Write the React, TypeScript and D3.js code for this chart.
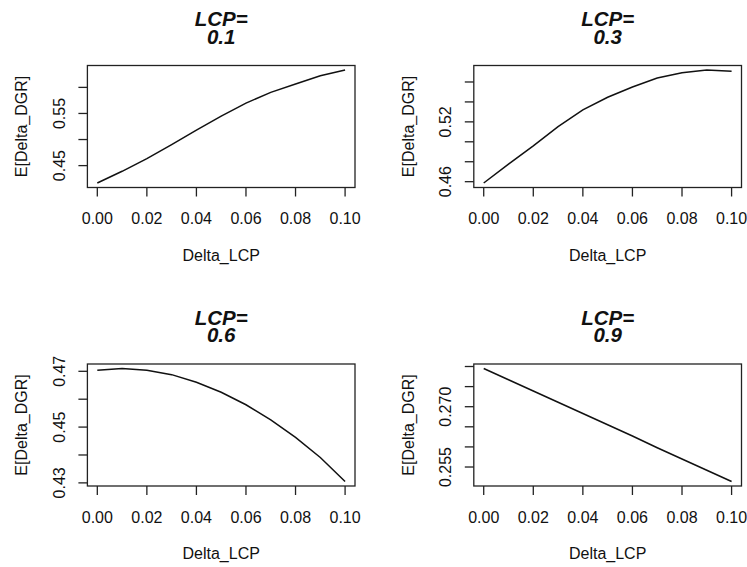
import { useEffect, useRef } from "react";
import * as d3 from "d3";

const deltaLcp = [0, 0.01, 0.02, 0.03, 0.04, 0.05, 0.06, 0.07, 0.08, 0.09, 0.1];

const lcp01 = [0.4167, 0.4391, 0.4635, 0.4904, 0.518, 0.5449, 0.5699, 0.5904, 0.6064, 0.6224, 0.6333];
const lcp03 = [0.4587, 0.4777, 0.496, 0.5153, 0.532, 0.5447, 0.555, 0.564, 0.5693, 0.572, 0.5707];
const lcp06 = [0.4704, 0.471, 0.4704, 0.4688, 0.4661, 0.4625, 0.458, 0.4526, 0.4463, 0.4391, 0.4305];
const lcp09 = [0.2795, 0.2767, 0.2739, 0.2711, 0.2683, 0.2655, 0.2627, 0.2598, 0.257, 0.2542, 0.2514];

const panelTitles = ["0.1", "0.3", "0.6", "0.9"];
const seriesList = [lcp01, lcp03, lcp06, lcp09];

const xTicks = [0, 0.02, 0.04, 0.06, 0.08, 0.1];
const yTicks = [
  [0.45, 0.5, 0.55, 0.6],
  [0.46, 0.48, 0.5, 0.52, 0.54, 0.56],
  [0.43, 0.44, 0.45, 0.46, 0.47],
  [0.255, 0.26, 0.265, 0.27, 0.275, 0.28],
];
const yLabels = [
  ["0.45", "0.55"],
  ["0.46", "0.52"],
  ["0.43", "0.45", "0.47"],
  ["0.255", "0.270"],
];

const W = 747;
const H = 567;
const FONT = "'Liberation Sans', Arial, Helvetica, sans-serif";

// plot boxes (left, right, top, bottom)
const boxes = [
  { l: 87.4, r: 355, t: 65.5, b: 187.5 },
  { l: 473.8, r: 741.5, t: 65.5, b: 187.5 },
  { l: 87.4, r: 355, t: 364, b: 486 },
  { l: 473.8, r: 741.5, t: 364, b: 486 },
];

// R style 4% padding
const pad = (ext) => {
  const d = (ext[1] - ext[0]) * 0.04;
  return [ext[0] - d, ext[1] + d];
};

const App = () => {
  const svgRef = useRef(null);

  useEffect(() => {
    const svg = d3.select(svgRef.current);
    svg.selectAll("*").remove();

    seriesList.forEach((vals, i) => {
      const box = boxes[i];
      const data = deltaLcp.map((x, j) => [x, vals[j]]);

      const x = d3.scaleLinear().domain(pad(d3.extent(deltaLcp))).range([box.l, box.r]);
      const y = d3.scaleLinear().domain(pad(d3.extent(vals))).range([box.b, box.t]);

      const g = svg.append("g");

      g.append("rect")
        .attr("x", box.l)
        .attr("y", box.t)
        .attr("width", box.r - box.l)
        .attr("height", box.b - box.t)
        .attr("fill", "none")
        .attr("stroke", "#222")
        .attr("stroke-width", 1.3);

      g.append("path")
        .datum(data)
        .attr("fill", "none")
        .attr("stroke", "#111")
        .attr("stroke-width", 1.5)
        .attr("d", d3.line().x((d) => x(d[0])).y((d) => y(d[1])));

      // x axis
      g.selectAll(".xt")
        .data(xTicks)
        .enter()
        .append("line")
        .attr("x1", (d) => x(d))
        .attr("x2", (d) => x(d))
        .attr("y1", box.b)
        .attr("y2", box.b + 9)
        .attr("stroke", "#222")
        .attr("stroke-width", 1.3);
      g.selectAll(".xl")
        .data(xTicks)
        .enter()
        .append("text")
        .attr("x", (d) => x(d))
        .attr("y", box.b + 36.5)
        .attr("text-anchor", "middle")
        .attr("font-family", FONT)
        .attr("font-size", 16)
        .attr("fill", "#111")
        .text((d) => d3.format(".2f")(d));

      // y axis
      g.selectAll(".yt")
        .data(yTicks[i])
        .enter()
        .append("line")
        .attr("x1", box.l)
        .attr("x2", box.l - 9)
        .attr("y1", (d) => y(d))
        .attr("y2", (d) => y(d))
        .attr("stroke", "#222")
        .attr("stroke-width", 1.3);
      g.selectAll(".yl")
        .data(yLabels[i])
        .enter()
        .append("text")
        .attr("transform", (d) => `translate(${box.l - 22.5},${y(+d)}) rotate(-90)`)
        .attr("text-anchor", "middle")
        .attr("font-family", FONT)
        .attr("font-size", 16)
        .attr("fill", "#111")
        .text((d) => d);

      // axis titles
      g.append("text")
        .attr("x", (box.l + box.r) / 2)
        .attr("y", box.b + 73)
        .attr("text-anchor", "middle")
        .attr("font-family", FONT)
        .attr("font-size", 16)
        .attr("fill", "#111")
        .text("Delta_LCP");
      g.append("text")
        .attr("transform", `translate(${box.l - 60},${(box.t + box.b) / 2}) rotate(-90)`)
        .attr("text-anchor", "middle")
        .attr("font-family", FONT)
        .attr("font-size", 16)
        .attr("fill", "#111")
        .text("E[Delta_DGR]");

      // title, two lines in one text
      const cx = (box.l + box.r) / 2;
      const title = g
        .append("text")
        .attr("text-anchor", "middle")
        .attr("font-family", FONT)
        .attr("font-size", 20.5)
        .attr("font-weight", "bold")
        .attr("font-style", "italic")
        .attr("fill", "#111");
      title.append("tspan").attr("x", cx).attr("y", box.t - 39.5).text("LCP=");
      title.append("tspan").attr("x", cx).attr("y", box.t - 22).text(panelTitles[i]);
    });
  }, []);

  return (
    <svg
      ref={svgRef}
      width={W}
      height={H}
      style={{ position: "absolute", left: 0, top: 0, background: "#fff" }}
    />
  );
};

export default App;
